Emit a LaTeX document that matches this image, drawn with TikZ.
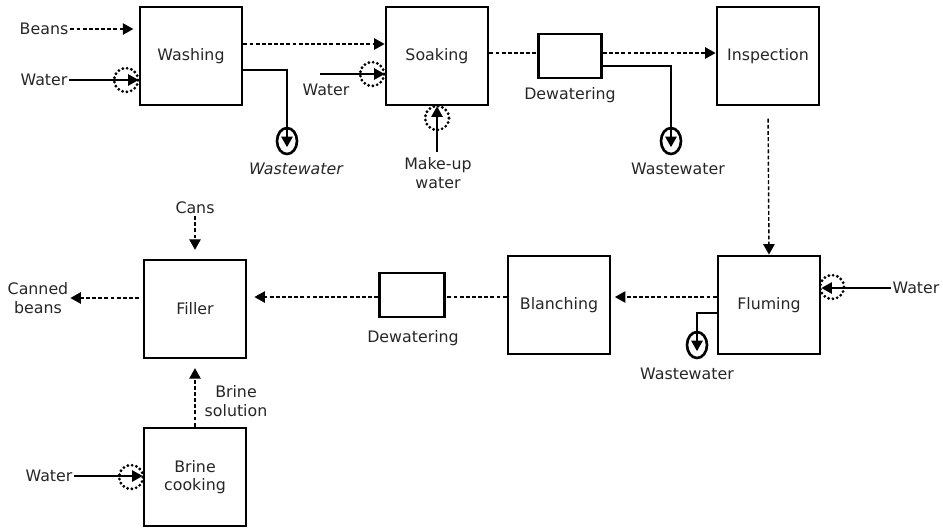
\documentclass[tikz,border=0pt]{standalone}
\usepackage{fontspec}
\setmainfont{DejaVu Sans}
\usetikzlibrary{arrows.meta,shapes.geometric}

\begin{document}
\begin{tikzpicture}[x=0.02cm,y=-0.02cm,
    font=\fontsize{9}{10.5}\selectfont,
    every node/.style={text=black!85},
    unit/.style={draw=black,line width=1.6pt,minimum width=2.04cm,minimum height=1.96cm,align=center},
    sepbox/.style={draw=black,line width=1.6pt,minimum width=1.26cm,minimum height=0.88cm},
    inlet/.style={circle,draw=black,line width=1.8pt,line cap=round,dash pattern=on 0pt off 2.5pt,minimum size=0.48cm,inner sep=0pt},
    drain/.style={ellipse,draw=black,line width=1.5pt,minimum width=0.4cm,minimum height=0.52cm,inner sep=0pt},
    flow/.style={dash pattern=on 2.2pt off 1.3pt,line width=0.8pt,-{Triangle[length=6pt,width=6.5pt]}},
    feed/.style={line width=0.8pt,-{Triangle[length=6pt,width=6.5pt]}},
    lbl/.style={align=center,inner sep=1pt}]

    \useasboundingbox (0,0) rectangle (943,529);

    % process units
    \node[unit] (washing) at (191,56) {Washing};
    \node[unit] (soaking) at (437,56) {Soaking};
    \node[sepbox] (dew1) at (570,56) {};
    \node[unit] (inspection) at (768,56) {Inspection};
    \node[unit] (fluming) at (769,305) {Fluming};
    \node[unit] (blanching) at (559,305) {Blanching};
    \node[sepbox,minimum width=1.3cm] (dew2) at (412,295) {};
    \node[unit] (filler) at (195,309) {Filler};
    \node[unit] (brine) at (195,477) {Brine\\cooking};

    % water inlets
    \node[inlet] (in1) at (126,80) {};
    \node[inlet] (in2) at (372,74) {};
    \node[inlet] (in3) at (437,118) {};
    \node[inlet] (in4) at (832,287) {};
    \node[inlet] (in5) at (131,477) {};

    % wastewater outlets
    \node[drain] (ww1) at (287,141) {};
    \node[drain] (ww2) at (671,141) {};
    \node[drain] (ww3) at (697,345) {};

    % labels
    \node[lbl] (beans) at (44,29) {Beans};
    \node[lbl] (water1) at (44,80) {Water};
    \node[lbl] (water2) at (326,90) {Water};
    \node[lbl] (makeup) at (438,173) {Make-up\\water};
    \node[lbl] (water4) at (916,288) {Water};
    \node[lbl] (water5) at (49,476) {Water};
    \node[lbl,font=\fontsize{9}{10.5}\selectfont\itshape] (wwl1) at (296,169) {Wastewater};
    \node[lbl] (wwl2) at (678,169) {Wastewater};
    \node[lbl] (wwl3) at (687,374) {Wastewater};
    \node[lbl] (dewl1) at (570,95) {Dewatering};
    \node[lbl] (dewl2) at (413,338) {Dewatering};
    \node[lbl] (cans) at (195,208) {Cans};
    \node[lbl] (canned) at (38,298) {Canned\\beans};
    \node[lbl] (brinel) at (236,401) {Brine\\solution};
    \coordinate (w2start) at (320,74);
    \coordinate (w3start) at (437,152);

    % product flow
    \draw[flow,shorten >=3pt] (beans.east) -- (washing.west |- beans.east);
    \draw[flow] (washing.east |- 0,44) -- (soaking.west |- 0,44);
    \draw[flow,-] (soaking.east |- 0,53) -- (dew1.west |- 0,53);
    \draw[flow] (dew1.east |- 0,53) -- (inspection.west |- 0,53);
    \draw[flow,shorten <=7pt] (inspection.south) -- (fluming.north);
    \draw[flow,shorten >=2pt] (fluming.west |- 0,297) -- (blanching.east |- 0,297);
    \draw[flow,-] (blanching.west |- 0,297) -- (dew2.east |- 0,297);
    \draw[flow,shorten >=4pt] (dew2.west |- 0,297) -- (filler.east |- 0,297);
    \draw[flow,shorten <=2pt] (filler.west |- canned.east) -- (canned.east);
    \draw[flow,shorten >=5pt] (cans.south) -- (filler.north);
    \draw[flow,shorten >=5pt] (brine.north) -- (filler.south);

    % water feeds
    \draw[feed] (water1.east) -- (washing.west |- water1.east);
    \draw[feed] (w2start) -- (soaking.west |- w2start);
    \draw[feed] (w3start) -- (soaking.south);
    \draw[feed] (water4.west) -- (fluming.east |- water4.west);
    \draw[feed] (water5.east) -- (brine.west |- water5.east);

    % wastewater lines
    \draw[feed] (washing.east |- 0,70) -| ([yshift=-3.5pt]ww1.center);
    \draw[feed] (dew1.east |- 0,66) -| ([yshift=-3.5pt]ww2.center);
    \draw[feed] (fluming.west |- 0,313) -| ([yshift=-3.5pt]ww3.center);
\end{tikzpicture}
\end{document}
